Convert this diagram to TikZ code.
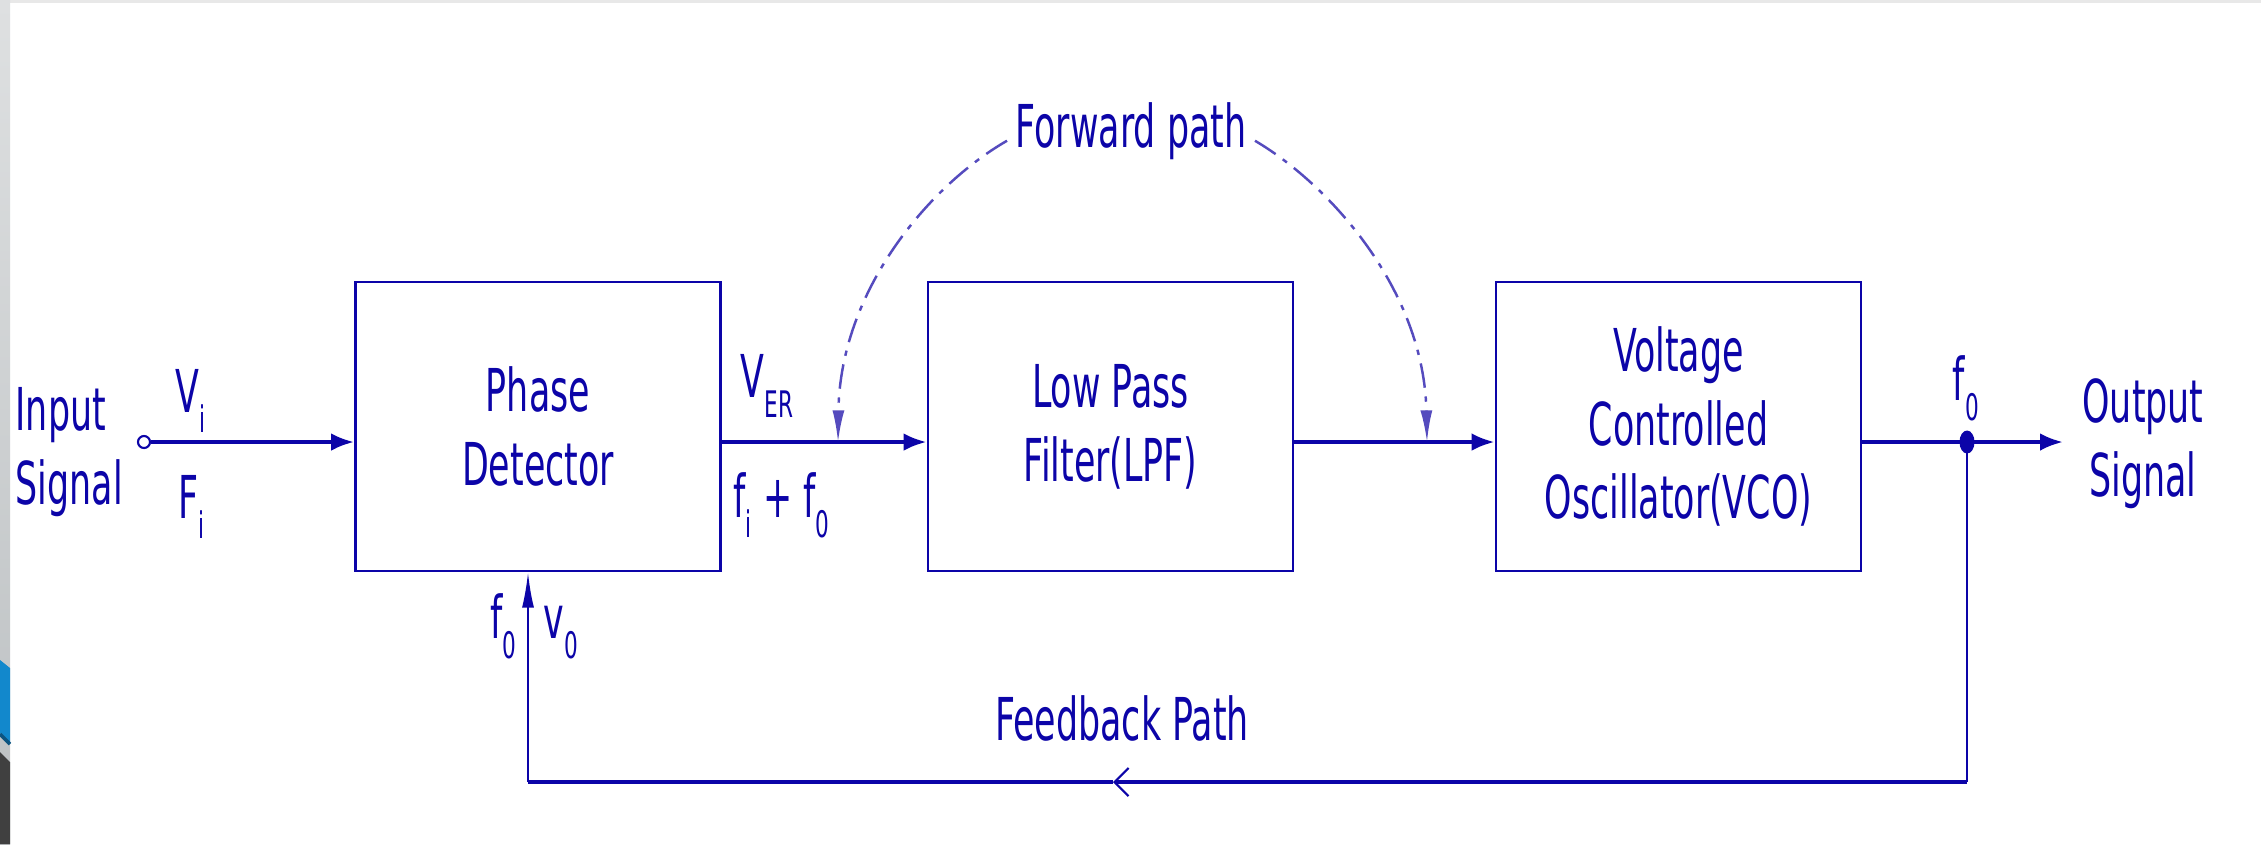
\documentclass[tikz,border=0pt]{standalone}
\usepackage{fontspec}
\setmainfont[FakeStretch=0.59]{DejaVu Sans}
\usetikzlibrary{arrows.meta}
\definecolor{ink}{RGB}{12,4,168}
\definecolor{dashink}{RGB}{85,75,190}
\definecolor{stripgraytop}{RGB}{222,224,225}
\definecolor{stripgraybot}{RGB}{188,192,194}
\definecolor{stripblue}{RGB}{18,136,204}
\definecolor{stripedge}{RGB}{12,84,128}
\definecolor{stripdark}{RGB}{64,64,64}
% small lowered index, e.g. V_i, f_0
\newcommand\subs[1]{\raisebox{-5.7pt}{\fontsize{10.4}{12}\selectfont #1}}

\begin{document}
\begin{tikzpicture}[x=0.01cm, y=-0.01cm,
  every node/.style={text=ink, font=\fontsize{16.8}{21}\selectfont},
  blk/.style={draw=ink, line width=0.75pt, minimum width=3.65cm,
    minimum height=2.89cm, inner sep=0pt, align=center},
  sig/.style={draw=ink, line width=1.1pt, -{Latex[length=6.5pt,width=5pt]}},
  wire/.style={draw=ink, line width=1.1pt},
  fbv/.style={draw=ink, line width=0.6pt},
  fbh/.style={draw=ink, line width=0.95pt},
  fwdarc/.style={draw=dashink, line width=0.7pt,
    dash pattern=on 7pt off 2.5pt on 1.5pt off 2.5pt,
    -{Latex[length=9pt,width=3.4pt]}},
  lbl/.style={inner sep=0pt},
]
% canvas and slide edge
\fill[white] (0,0) rectangle (2261,844);
\useasboundingbox (0,0) rectangle (2261,844);
\fill[gray!18] (0,0) rectangle (2261,3);
\shade[top color=stripgraytop, bottom color=stripgraybot] (0,0) rectangle (10,844);
\fill[stripblue] (0,660) -- (10,668) -- (10,743) -- (0,733) -- cycle;
\draw[stripedge, line width=1pt] (0,734) -- (10,744);
\fill[stripdark] (0,752) -- (10,762) -- (10,844) -- (0,844) -- cycle;

% blocks
\node[blk] (pd)  at (538,426.5)  {Phase\\Detector};
\node[blk] (lpf) at (1110.5,426.5) {Low Pass\\Filter(LPF)};
\node[blk] (vco) at (1678.5,426.5) {Voltage\\Controlled\\Oscillator(VCO)};

% terminals and labels
\coordinate (ml) at (0,442);
\node[circle, draw=ink, line width=0.6pt, minimum size=0.12cm, inner sep=0pt] (in) at (144,442) {};
\node[lbl, anchor=north west, align=left] (insig) at (15,387) {Input\\Signal};
\node[lbl, anchor=north, align=center] (outsig) at (2143,378) {Output\\Signal};
\node[lbl, anchor=base west] (vi)   at (175,412) {V\subs{i}};
\node[lbl, anchor=base west] (fi)   at (178,518) {F\subs{i}};
\node[lbl, anchor=base west] (ver)  at (740,397) {V\subs{ER}};
\node[lbl, anchor=base west] (fsum) at (733,517) {f\subs{i} + f\subs{0}};
\node[lbl, anchor=base west] (fo)   at (1952,400) {f\subs{0}};
\node[lbl, anchor=base west] (ffb)  at (490,638) {f\subs{0}};
\node[lbl, anchor=base west] (vfb)  at (543,638) {v\subs{0}};
\node[anchor=base, inner sep=0.08cm] (fwd) at (1131,147) {Forward path};
\node[lbl, anchor=base] (fbt) at (1122,740) {Feedback Path};

% points on the signal lines
\coordinate (j)    at (1967,442);
\coordinate (otip) at (2063,442);
\coordinate (fa)   at (838,442);
\coordinate (fb)   at (1427,442);
\coordinate (fbr)  at (1967,782);
\coordinate (fbm)  at (1113,782);
\coordinate (fbl)  at (528,782);

% forward path
\draw[sig]  (in) -- (pd.west |- ml);
\draw[sig]  (pd.east |- ml) -- (lpf.west |- ml);
\draw[sig]  (lpf.east |- ml) -- (vco.west |- ml);
\draw[wire] (vco.east |- ml) -- (j);
\draw[sig]  (j) -- (otip);
\fill[ink] (j) ellipse [x radius=0.075cm, y radius=0.115cm];

% feedback loop
\draw[fbv] (j) -- (fbr);
\draw[fbh, -{Straight Barb[length=4pt,width=8pt,line width=0.6pt]}] (fbr) -- (fbm);
\draw[fbh] (fbm) -- (fbl);
\draw[fbv, -{Latex[length=10pt,width=3.4pt]}] (fbl) -- (pd.south -| fbl);

% dashed callouts of the forward path
\draw[fwdarc] ([yshift=-0.1cm]fwd.west) .. controls (930,185) and (840,290) .. (fa);
\draw[fwdarc] ([yshift=-0.1cm]fwd.east) .. controls (1330,185) and (1424,290) .. (fb);
\end{tikzpicture}
\end{document}
